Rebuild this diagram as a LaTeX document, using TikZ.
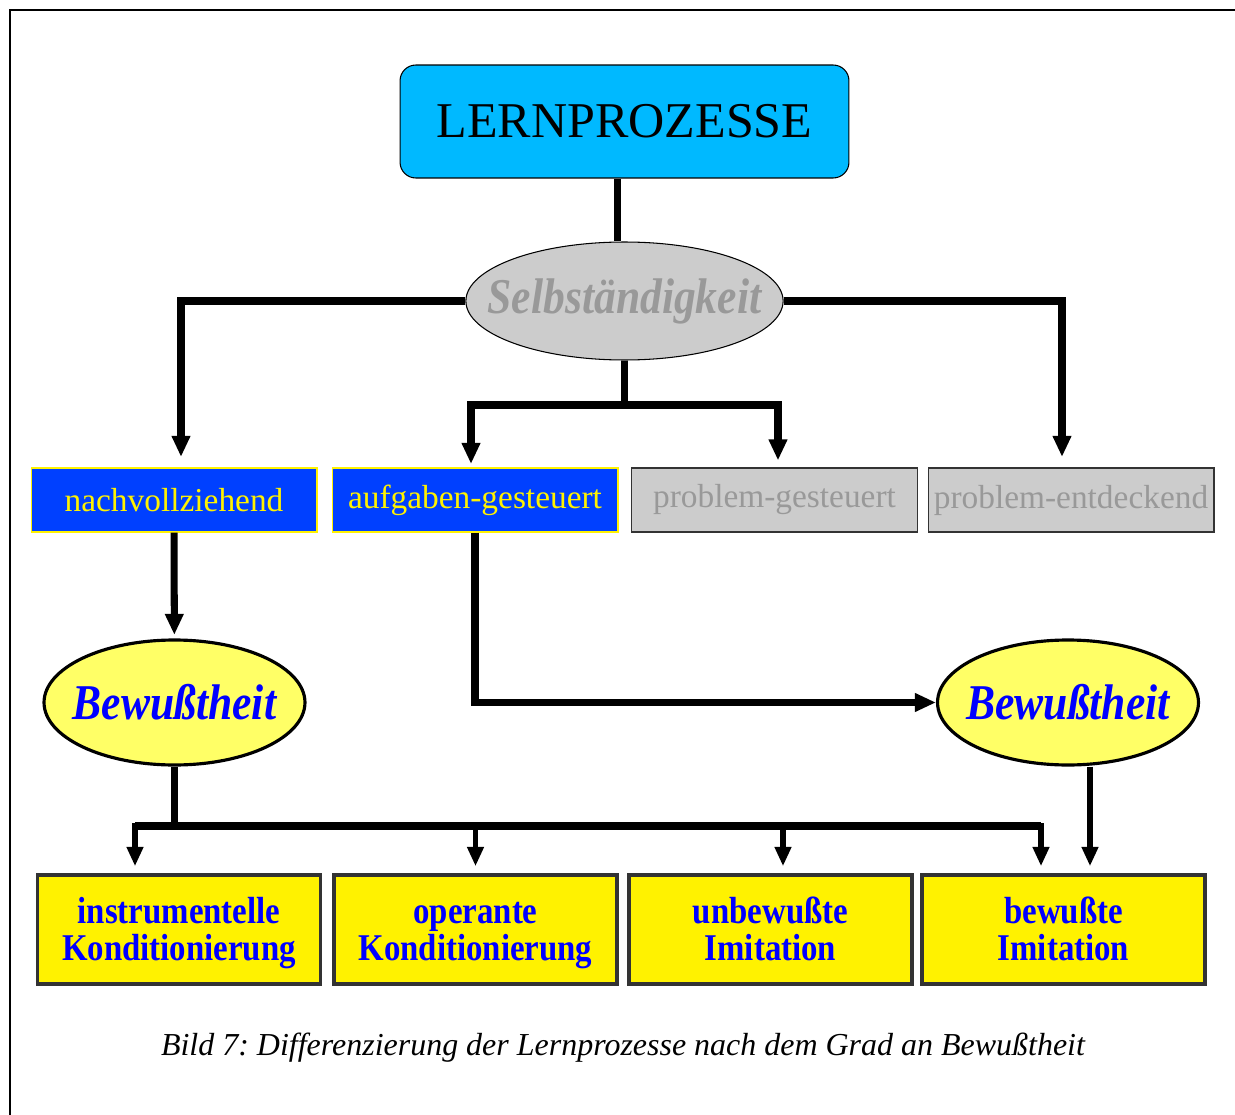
\documentclass[tikz,border=0pt]{standalone}
\usepackage{fontspec}
\setmainfont{Liberation Serif}
\newfontfamily\narrowserif{Liberation Serif}[FakeStretch=0.87]
\usetikzlibrary{arrows.meta, positioning, shapes.geometric}
\frenchspacing

\definecolor{lerncyan}{HTML}{00B9FF}
\definecolor{boxblue}{HTML}{0040FF}
\definecolor{boxgray}{HTML}{CCCCCC}
\definecolor{textgray}{HTML}{999999}
\definecolor{paleyellow}{HTML}{FFFF66}
\definecolor{framegray}{HTML}{333333}

\newcommand{\topline}{\rule{0pt}{20.5pt}}

\begin{document}
\begin{tikzpicture}[x=0.02cm, y=-0.02cm, line width=4pt,
  >={Triangle[width=10pt,length=12pt]},
  topic/.style={rectangle, rounded corners=9pt, draw=black, line width=0.6pt, fill=lerncyan,
    minimum width=8.98cm, minimum height=2.26cm, inner sep=0pt, font=\fontsize{28.5}{30}\selectfont},
  selbst/.style={ellipse, draw=black, line width=0.6pt, fill=boxgray, text=textgray,
    minimum width=6.34cm, minimum height=2.36cm, inner xsep=-14pt, inner ysep=0pt,
    font=\narrowserif\bfseries\itshape\fontsize{28.5}{30}\selectfont},
  levelon/.style={rectangle, draw=yellow, line width=0.6pt, fill=boxblue, text=yellow,
    minimum width=5.72cm, minimum height=1.28cm, inner sep=0pt, font=\fontsize{19}{21}\selectfont},
  leveloff/.style={levelon, draw=framegray, fill=boxgray, text=textgray},
  aware/.style={ellipse, draw=black, line width=1.8pt, fill=paleyellow, text=blue,
    minimum width=5.22cm, minimum height=2.5cm, inner xsep=-8pt, inner ysep=0pt,
    font=\narrowserif\bfseries\itshape\fontsize{28.5}{30}\selectfont},
  kind/.style={rectangle, draw=framegray, line width=2pt, fill=yellow, text=blue, align=center,
    minimum width=5.66cm, minimum height=2.18cm, inner sep=0pt,
    font=\narrowserif\bfseries\fontsize{21.5}{21}\selectfont},
  drop/.style={->, line width=3pt, >={Triangle[width=9pt,length=11pt]}, shorten >=4pt}]

  \useasboundingbox (0,0) rectangle (1235,1115);
  \draw[line width=1.2pt] (10,1115) -- (10,10) -- (1235,10);

  \node[topic] (lern) at (624.5,121.5) {LERNPROZESSE};
  \node[selbst] (selb) at (624.5,301) {Selbständigkeit};

  \node[levelon] (nach) at (174,500) {nachvollziehend};
  \node[levelon] (aufg) at (475,500) {aufgaben-gesteuert};
  \node[leveloff] (pges) at (774.5,500) {problem-gesteuert};
  \node[leveloff] (pent) at (1071,500) {problem-entdeckend};

  \node[aware] (bew1) at (174.5,702.5) {Bewußtheit};
  \node[aware] (bew2) at (1068,702.5) {Bewußtheit};

  \node[kind] (instr) at (179,929.5) {\topline instrumentelle\\Konditionierung\strut};
  \node[kind] (oper) at (475.5,929.5) {\topline operante\\Konditionierung\strut};
  \node[kind] (unbew) at (770.5,929.5) {\topline unbewußte\\Imitation\strut};
  \node[kind] (bewim) at (1063.5,929.5) {\topline bewußte\\Imitation\strut};

  \node[font=\itshape\fontsize{18.2}{20}\selectfont] (caption) at (623,1048)
    {Bild 7: Differenzierung der Lernprozesse nach dem Grad an Bewußtheit};

  \coordinate (split) at (624.5,405);
  \coordinate (bus) at (174.5,826);

  \draw ([xshift=-0.14cm]lern.south) -- ([xshift=-0.14cm]lern.south |- selb.north);
  \draw[->, shorten >=6pt] (selb.west) -| ([xshift=0.14cm]nach.north);
  \draw[->, shorten >=6pt] (selb.east) -| ([xshift=-0.18cm]pent.north);
  \draw (selb) -- (split);
  \draw[->, shorten >=2pt] (split) -| ([xshift=-0.08cm]aufg.north);
  \draw[->, shorten >=4pt] (split) -| ([xshift=0.07cm]pges.north);

  \draw[->, shorten >=2pt] (nach) -- (bew1);
  \draw[->] (aufg.south) |- (bew2.west);

  \draw (bew1) -- (bus);
  \draw[line width=5pt] ([xshift=-0.88cm]instr.north |- bus) -- ([xshift=-0.45cm]bewim.north |- bus);
  \draw[drop] (bus) -| ([xshift=-0.88cm]instr.north);
  \draw[drop] (bus) -| (oper.north);
  \draw[drop] (bus) -| ([xshift=0.25cm]unbew.north);
  \draw[drop] (bus) -| ([xshift=-0.45cm]bewim.north);
  \draw[drop] ([xshift=0.44cm]bew2.south) -- ([xshift=0.44cm]bew2.south |- bewim.north);
\end{tikzpicture}
\end{document}
